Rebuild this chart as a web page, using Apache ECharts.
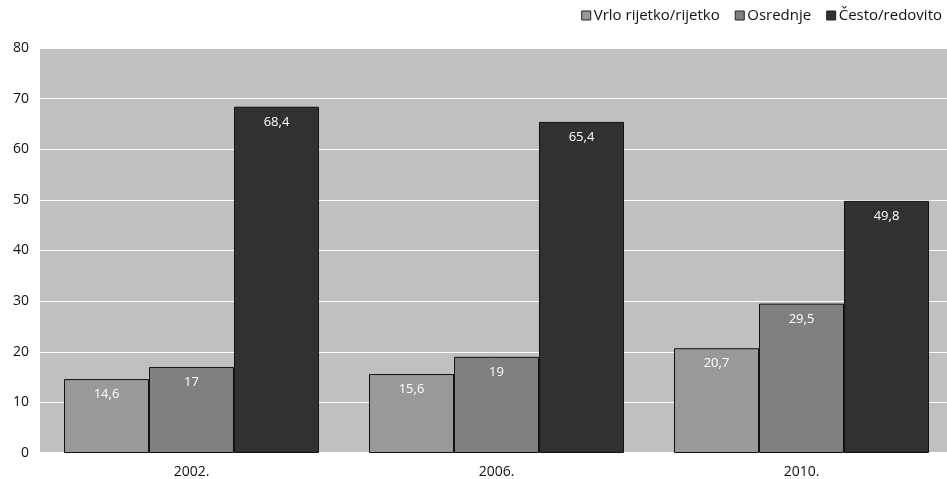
<!DOCTYPE html>
<html><head><meta charset="utf-8">
<script src="https://cdn.jsdelivr.net/npm/echarts@6/dist/echarts.min.js"></script>
<style>html,body{margin:0;padding:0;background:#fff}#c{width:947px;height:479px}</style>
</head><body><div id="c"></div>
<script>
const categories = ['2002.', '2006.', '2010.'];
const seriesNames = ['Vrlo rijetko/rijetko', 'Osrednje', 'Često/redovito'];
const rijetko = [14.6, 15.6, 20.7];
const osrednje = [17, 19, 29.5];
const cesto = [68.4, 65.4, 49.8];
const yTicks = [0, 10, 20, 30, 40, 50, 60, 70, 80];

const colors = ['#999a98', '#808080', '#303130'];
const font = 'Open Sans';
const chart = echarts.init(document.getElementById('c'));
function mk(name, data, color) {
  return {
    name: name, type: 'bar', data: data, barGap: '0%', barCategoryGap: '16.4%',
    itemStyle: { color: color, borderColor: '#111', borderWidth: 1 },
    label: { show: true, position: 'insideTop', distance: 9, color: '#fff', fontFamily: font, fontSize: 13,
      formatter: p => String(p.value).replace('.', ',') }
  };
}
chart.setOption({
  animation: false,
  textStyle: { fontFamily: font },
  legend: {
    right: 0, top: 3, itemWidth: 9, itemHeight: 9, itemGap: 15,
    icon: 'rect',
    textStyle: { fontFamily: font, fontSize: 15, color: '#111', padding: [0, 0, 0, -2] },
    itemStyle: { borderColor: '#222', borderWidth: 1 },
    data: seriesNames
  },
  grid: { left: 39, width: 915, top: 48, bottom: 26, show: true, backgroundColor: '#c0c0c0', borderWidth: 0, outerBoundsMode: 'none', containLabel: false },
  xAxis: {
    type: 'category', data: categories,
    axisLine: { show: true, lineStyle: { color: '#fff', width: 2 } },
    axisTick: { show: false },
    axisLabel: { color: '#111', fontSize: 14, fontFamily: font, margin: 12 }
  },
  yAxis: {
    type: 'value', min: yTicks[0], max: yTicks[yTicks.length - 1], interval: 10,
    axisLine: { show: true, lineStyle: { color: '#fff', width: 2 } },
    axisTick: { show: true, length: 4, lineStyle: { color: '#fff' } },
    axisLabel: { color: '#111', fontSize: 14, fontFamily: font, margin: 10 },
    splitLine: { show: true, lineStyle: { color: '#fff', width: 1 } }
  },
  series: [mk(seriesNames[0], rijetko, colors[0]), mk(seriesNames[1], osrednje, colors[1]), mk(seriesNames[2], cesto, colors[2])]
});
</script></body></html>
